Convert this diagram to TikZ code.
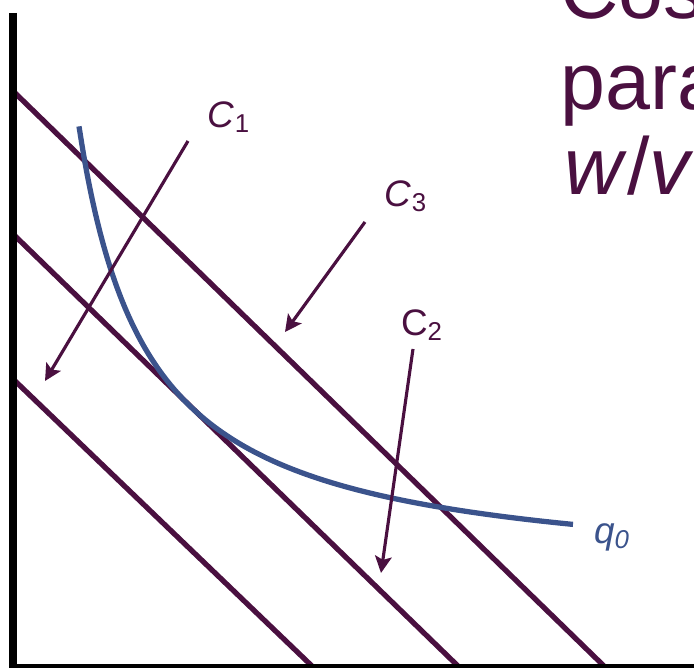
\documentclass[tikz,border=0pt]{standalone}
\usepackage{fontspec}
\setmainfont{Liberation Sans}
\usetikzlibrary{arrows.meta}
\definecolor{plum}{RGB}{74,16,64}
\definecolor{isoblue}{RGB}{59,83,140}
\begin{document}
\begin{tikzpicture}[x=0.02cm, y=-0.02cm,
    axis/.style={line width=4.5pt},
    costline/.style={plum, line width=3pt},
    isoquant/.style={isoblue, line width=3pt},
    pointer/.style={plum, line width=1.8pt, -{Stealth[length=9.5pt, width=9.5pt, inset=2pt]}},
    lbl/.style={plum, font=\fontsize{21}{24}\selectfont, inner sep=0pt},
    big/.style={plum, font=\fontsize{46}{52}\selectfont, inner sep=0pt, anchor=base west}]
  \useasboundingbox (0,0) rectangle (694,668);
  \coordinate (O) at (13,668);
  \coordinate (ytop) at (13,13);
  \coordinate (xend) at (700,668);
  \coordinate (c3a) at (13,91);
  \coordinate (c3b) at (606,668);
  \coordinate (c2a) at (13,234);
  \coordinate (c2b) at (460,668);
  \coordinate (c1a) at (13,379);
  \coordinate (c1b) at (314,668);
  \draw[costline] (c3a) -- (c3b);
  \draw[costline] (c2a) -- (c2b);
  \draw[costline] (c1a) -- (c1b);
  \draw[isoquant] plot[domain=79:573, samples=120, smooth] (\x, {580-31.3*(1000/(\x-10))});
  \draw[axis] (ytop) -- (O) -- (xend);
  \node[lbl] (c1) at (229,117) {\textit{C}\textsubscript{1}};
  \node[lbl] (c3) at (406,196) {\textit{C}\textsubscript{3}};
  \node[lbl] (c2) at (422,325) {C\textsubscript{2}};
  \node[lbl, isoblue] (q0) at (612,537) {\textit{q\textsubscript{0}}};
  \coordinate (p1s) at (188,141);
  \coordinate (p1e) at (45,381);
  \coordinate (p3s) at (365,222);
  \coordinate (p3e) at (285,332);
  \coordinate (p2s) at (413,349);
  \coordinate (p2e) at (381,573);
  \draw[pointer] (p1s) -- (p1e);
  \draw[pointer] (p3s) -- (p3e);
  \draw[pointer] (p2s) -- (p2e);
  \node[big] (t1) at (560,19) {Cos};
  \node[big] (t2) at (560,110) {para};
  \node[big] (t3) at (564,195) {\textit{w}/\textit{v}};
\end{tikzpicture}
\end{document}
